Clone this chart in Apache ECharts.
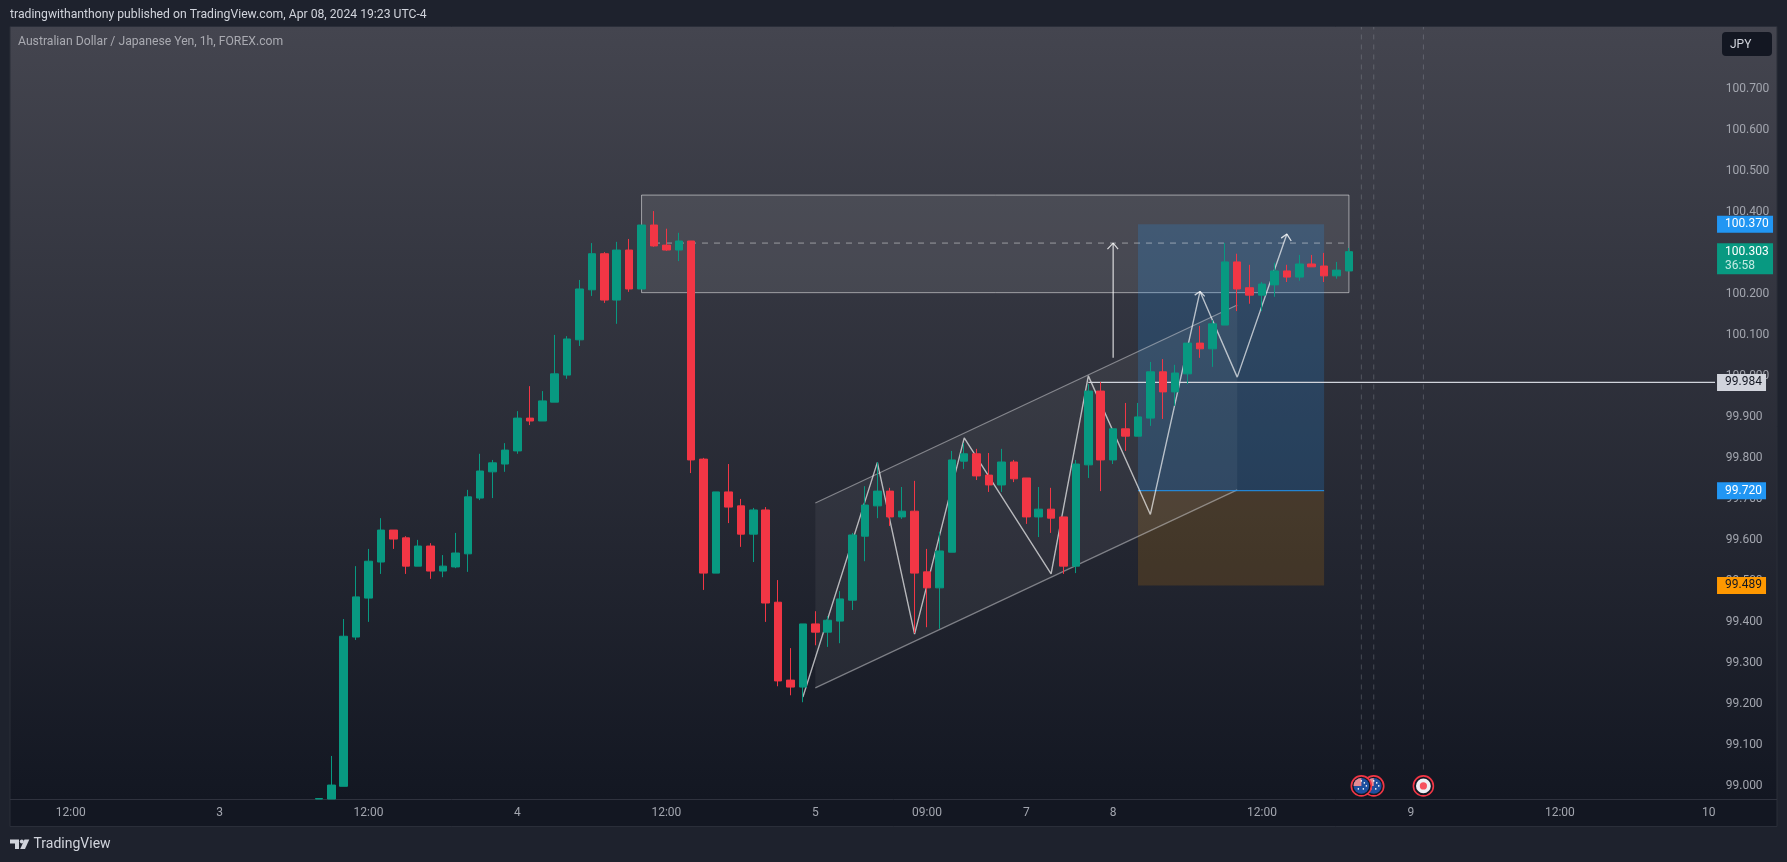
<!DOCTYPE html>
<html>

<head>
	<meta charset="utf-8">
	<script src="https://cdn.jsdelivr.net/npm/echarts@6/dist/echarts.min.js"></script>
	<style>
		html, body { margin: 0; padding: 0; background: #1e222d; }
	</style>
</head>

<body>
	<div id="main" style="width: 1787px; height: 862px"></div>
	<script type="text/javascript">
		// AUD/JPY 1h, bars are counted in slots of the time axis
		var slotCount = 138;
		var tickSlots = [5, 17, 29, 41, 53, 65, 74, 82, 89, 101, 113, 125, 137];
		var tickTexts = ['12:00', '3', '12:00', '4', '12:00', '5', '09:00', '7', '8', '12:00', '9', '12:00', '10'];
		var priceTicks = [99.0, 99.1, 99.2, 99.3, 99.4, 99.5, 99.6, 99.7, 99.8, 99.9, 100.0, 100.1, 100.2, 100.3, 100.4, 100.5, 100.6, 100.7];

		// first visible bar sits at slot 25, the two first bars are cut by the chart bottom
		var firstBar = 25;
		// open, close, low, high
		var candles = [
			[98.968, 98.969, 98.968, 98.970], [98.968, 99.002, 98.968, 99.073], [98.999, 99.365, 98.999, 99.407], [99.363, 99.461, 99.356, 99.536],
			[99.458, 99.548, 99.400, 99.578], [99.546, 99.624, 99.517, 99.653], [99.624, 99.602, 99.578, 99.624], [99.605, 99.536, 99.517, 99.609],
			[99.536, 99.585, 99.536, 99.600], [99.585, 99.524, 99.505, 99.592], [99.524, 99.536, 99.509, 99.563], [99.534, 99.568, 99.531, 99.617],
			[99.566, 99.705, 99.522, 99.722], [99.702, 99.768, 99.697, 99.810], [99.766, 99.788, 99.702, 99.795], [99.785, 99.819, 99.766, 99.836],
			[99.817, 99.897, 99.810, 99.914], [99.897, 99.890, 99.880, 99.975], [99.890, 99.939, 99.890, 99.963], [99.936, 100.005, 99.936, 100.100],
			[100.002, 100.090, 99.993, 100.097], [100.088, 100.212, 100.073, 100.234], [100.210, 100.298, 100.195, 100.324], [100.298, 100.185, 100.178, 100.302],
			[100.185, 100.307, 100.127, 100.327], [100.307, 100.212, 100.205, 100.334], [100.212, 100.368, 100.212, 100.368], [100.368, 100.317, 100.315, 100.402],
			[100.319, 100.307, 100.305, 100.359], [100.307, 100.329, 100.280, 100.349], [100.329, 99.795, 99.763, 100.329], [99.797, 99.519, 99.478, 99.800],
			[99.519, 99.717, 99.519, 99.717], [99.717, 99.680, 99.641, 99.785], [99.683, 99.614, 99.583, 99.700], [99.614, 99.673, 99.546, 99.678],
			[99.673, 99.446, 99.400, 99.680], [99.448, 99.256, 99.243, 99.502], [99.258, 99.241, 99.221, 99.336], [99.241, 99.395, 99.204, 99.395],
			[99.395, 99.375, 99.343, 99.426], [99.375, 99.404, 99.339, 99.414], [99.402, 99.456, 99.348, 99.475], [99.453, 99.612, 99.429, 99.617],
			[99.609, 99.685, 99.548, 99.731], [99.683, 99.719, 99.653, 99.790], [99.719, 99.656, 99.634, 99.727], [99.656, 99.670, 99.651, 99.729],
			[99.670, 99.519, 99.373, 99.744], [99.522, 99.483, 99.387, 99.578], [99.483, 99.573, 99.383, 99.619], [99.570, 99.795, 99.570, 99.817],
			[99.792, 99.810, 99.773, 99.836], [99.810, 99.756, 99.746, 99.822], [99.758, 99.734, 99.717, 99.812], [99.734, 99.790, 99.717, 99.822],
			[99.790, 99.749, 99.741, 99.795], [99.751, 99.656, 99.639, 99.751], [99.656, 99.675, 99.607, 99.729], [99.675, 99.653, 99.617, 99.727],
			[99.656, 99.536, 99.517, 99.656], [99.536, 99.785, 99.519, 99.795], [99.783, 99.963, 99.751, 99.980], [99.963, 99.795, 99.719, 99.985],
			[99.795, 99.871, 99.785, 99.871], [99.871, 99.853, 99.817, 99.934], [99.853, 99.900, 99.853, 99.934], [99.897, 100.010, 99.878, 100.034],
			[100.010, 99.961, 99.895, 100.041], [99.961, 100.007, 99.927, 100.027], [100.005, 100.080, 99.980, 100.080], [100.080, 100.066, 100.044, 100.122],
			[100.066, 100.127, 100.022, 100.136], [100.124, 100.278, 100.124, 100.324], [100.278, 100.212, 100.158, 100.298], [100.215, 100.197, 100.176, 100.271],
			[100.197, 100.224, 100.158, 100.229], [100.222, 100.256, 100.193, 100.276], [100.256, 100.241, 100.229, 100.271], [100.241, 100.273, 100.232, 100.295],
			[100.273, 100.266, 100.266, 100.295], [100.268, 100.244, 100.229, 100.300], [100.244, 100.258, 100.237, 100.278], [100.256, 100.303, 100.256, 100.312]
		];

		// drawings on the chart, as [slot, price]
		var supplyBox = [[51, 100.441], [108, 100.203]];
		var supplyMid = [[52, 100.324], [108, 100.324]];
		var channelArea = [[65, 99.690], [99, 100.173], [99, 99.722], [65, 99.239]];
		var channelTop = [[65, 99.690], [99, 100.173]];
		var channelBottom = [[65, 99.239], [99, 99.722]];
		var profitZone = [[91, 100.370], [106, 99.720]];
		var lossZone = [[91, 99.720], [106, 99.489]];
		var entryLine = [[91, 99.720], [106, 99.720]];
		var zigzag = [[64, 99.217], [70, 99.789], [73, 99.370], [77, 99.849], [84, 99.517], [87, 100.0], [92, 99.662], [96, 100.206], [99, 99.997], [103, 100.346]];
		var zigzagHeadA = [[95.57, 100.197], [96, 100.206], [96.38, 100.194]];
		var zigzagHeadB = [[102.54, 100.336], [103, 100.346], [103.35, 100.329]];
		var targetArrow = [[89, 100.044], [89, 100.324]];
		var targetHead = [[88.54, 100.309], [89, 100.324], [89.4, 100.309]];
		var levelLine = [[87, 99.984], [137.5, 99.984]];

		// economic events under the dashed lines
		var eventSlots = [110, 109, 114];
		var eventKinds = ['AU', 'AU', 'JP'];
		var eventLineSlots = [109, 110, 114];

		// price tags on the right
		var tagPrices = [100.370, 100.303, 99.984, 99.720, 99.489];
		var tagTexts = ['100.370', '100.303', '99.984', '99.720', '99.489'];
		var tagFills = ['#2196f3', '#089981', '#d1d4dc', '#2196f3', '#ff9800'];
		var tagInks = ['#ffffff', '#ffffff', '#131722', '#ffffff', '#131722'];
		var countdown = '36:58';

		var fontName = 'Roboto';

		var categories = [];
		for (var s = 0; s < slotCount; s++) {
			var at = tickSlots.indexOf(s);
			categories.push(at >= 0 ? tickTexts[at] : '');
		}
		var candleData = [];
		for (var b = 0; b < firstBar; b++) candleData.push(['-', '-', '-', '-']);
		candleData = candleData.concat(candles);

		var myChart = echarts.init(document.getElementById('main'));

		function lineSeries(points, color, width, dash) {
			return {
				type: 'line', xAxisIndex: 1, yAxisIndex: 0, z: 1, data: points,
				symbol: 'none', silent: true, animation: false,
				lineStyle: { color: color, width: width, type: dash || 'solid' }
			};
		}

		// one item custom series, everything it draws goes through api.coord
		function shapeSeries(z, draw) {
			return {
				type: 'custom', xAxisIndex: 1, yAxisIndex: 0, z: z, silent: true, animation: false,
				data: [[0, 99.5]], renderItem: draw
			};
		}

		function rectOf(api, pair, fill, stroke, lw) {
			var a = api.coord(pair[0]), c = api.coord(pair[1]);
			return {
				type: 'rect',
				shape: { x: a[0], y: a[1], width: c[0] - a[0], height: c[1] - a[1] },
				style: { fill: fill, stroke: stroke || null, lineWidth: lw || 0 }
			};
		}

		function drawFills(params, api) {
			return {
				type: 'group',
				children: [
					rectOf(api, supplyBox, 'rgba(255,255,255,0.09)', 'rgba(255,255,255,0.5)', 1),
					rectOf(api, profitZone, 'rgba(33,150,243,0.2)'),
					rectOf(api, lossZone, 'rgba(255,152,0,0.15)'),
					{
						type: 'polygon',
						shape: { points: channelArea.map(function (p) { return api.coord(p); }) },
						style: { fill: 'rgba(255,255,255,0.055)' }
					}
				]
			};
		}

		function drawEventLines(params, api) {
			return {
				type: 'group',
				children: eventLineSlots.map(function (slot) {
					var a = api.coord([slot, 99.04]), c = api.coord([slot, 100.851]);
					return {
						type: 'line',
						shape: { x1: a[0], y1: a[1], x2: c[0], y2: c[1] },
						style: { stroke: 'rgba(170,172,182,0.3)', lineWidth: 1, lineDash: [5, 5] }
					};
				})
			};
		}

		function drawEvents(params, api) {
			var kids = [];
			eventSlots.forEach(function (slot, i) {
				var c = api.coord([slot, 99.0]), x = c[0], y = c[1];
				kids.push({ type: 'circle', shape: { cx: x, cy: y, r: 10 }, style: { fill: '#131722', stroke: '#f23645', lineWidth: 1.6 } });
				if (eventKinds[i] === 'AU') {
					kids.push({ type: 'circle', shape: { cx: x, cy: y, r: 7.8 }, style: { fill: '#1d4f9f' } });
					kids.push({ type: 'sector', shape: { cx: x, cy: y, r: 7.8, r0: 0, startAngle: Math.PI, endAngle: Math.PI * 1.5 }, style: { fill: '#e58b92' } });
					[[3, -3], [5, 0], [2, 3], [-3, 3], [0, -5]].forEach(function (d) {
						kids.push({ type: 'circle', shape: { cx: x + d[0], cy: y + d[1], r: 0.8 }, style: { fill: '#ffffff' } });
					});
				} else {
					kids.push({ type: 'circle', shape: { cx: x, cy: y, r: 7.4 }, style: { fill: '#eef0f4' } });
					kids.push({ type: 'circle', shape: { cx: x, cy: y, r: 3.6 }, style: { fill: '#f7525f' } });
				}
			});
			return { type: 'group', children: kids };
		}

		function drawTags(params, api) {
			var kids = [];
			tagPrices.forEach(function (p, i) {
				var c = api.coord([137.5, p]);
				var x = c[0] + 2, y = c[1];
				var long = tagTexts[i].length > 6;
				var withTimer = tagTexts[i] === '100.303';
				kids.push({
					type: 'rect',
					shape: { x: x, y: y - 8.5, width: long ? 56 : 49, height: withTimer ? 31 : 17 },
					style: { fill: tagFills[i] }
				});
				kids.push({
					type: 'text',
					style: { x: x + 8, y: y, text: tagTexts[i], fill: tagInks[i], font: '12px ' + fontName, textVerticalAlign: 'middle', textAlign: 'left' }
				});
				if (withTimer) {
					kids.push({
						type: 'text',
						style: { x: x + 8, y: y + 14, text: countdown, fill: '#c4ebe3', font: '12px ' + fontName, textVerticalAlign: 'middle', textAlign: 'left' }
					});
				}
			});
			return { type: 'group', children: kids };
		}

		var option = {
			animation: false,
			backgroundColor: '#1e222d',
			textStyle: { fontFamily: fontName },
			grid: { left: 2.45, top: 27, width: 1712.58, height: 772, containLabel: false },
			xAxis: [
				{
					type: 'category', data: categories, boundaryGap: true,
					axisLine: { show: false }, axisTick: { show: false }, splitLine: { show: false },
					axisLabel: {
						interval: function (i, v) { return v !== ''; },
						color: '#a3a6af', fontSize: 12, fontFamily: fontName, margin: 8, hideOverlap: false
					}
				},
				{ type: 'value', min: -0.5, max: slotCount - 0.5, show: false, splitLine: { show: false } }
			],
			yAxis: {
				type: 'value', position: 'right', min: 98.968, max: 100.851, scale: true,
				axisLine: { show: false }, axisTick: { show: false }, splitLine: { show: false },
				axisLabel: {
					customValues: priceTicks, color: '#a3a6af', fontSize: 12, fontFamily: fontName, margin: 10.7,
					formatter: function (v) { return v.toFixed(3); }
				}
			},
			graphic: [
				// pane background, time axis strip and its borders
				{ type: 'rect', z: -20, silent: true, shape: { x: 10, y: 27, width: 1767, height: 772 },
					style: { fill: new echarts.graphic.LinearGradient(0, 0, 0, 1, [{ offset: 0, color: '#44454f' }, { offset: 1, color: '#131722' }]) } },
				{ type: 'rect', z: -20, silent: true, shape: { x: 10, y: 799, width: 1767, height: 27 }, style: { fill: '#131722' } },
				{ type: 'rect', z: -19, silent: true, shape: { x: 10, y: 26.5, width: 1767, height: 800 }, style: { fill: 'none', stroke: '#2a2e39', lineWidth: 1 } },
				{ type: 'line', z: -19, silent: true, shape: { x1: 10, y1: 799.5, x2: 1777, y2: 799.5 }, style: { stroke: '#2f323e', lineWidth: 1 } },
				// texts
				{ type: 'text', z: 10, silent: true, style: { x: 10, y: 15, text: 'tradingwithanthony published on TradingView.com, Apr 08, 2024 19:23 UTC-4', fill: '#d1d4dc', font: '12.2px ' + fontName, textVerticalAlign: 'middle' } },
				{ type: 'text', z: 10, silent: true, style: { x: 18, y: 42, text: 'Australian Dollar / Japanese Yen, 1h, FOREX.com', fill: '#a9aab1', font: '12.2px ' + fontName, textVerticalAlign: 'middle' } },
				// currency button
				{ type: 'rect', z: 10, silent: true, shape: { x: 1722, y: 32, width: 50, height: 24, r: 4 }, style: { fill: '#131722' } },
				{ type: 'text', z: 11, silent: true, style: { x: 1730, y: 44.5, text: 'JPY', fill: '#d1d4dc', font: '12px ' + fontName, textVerticalAlign: 'middle' } },
				// logo
				{ type: 'polygon', z: 10, silent: true, shape: { points: [[10, 839.5], [19, 839.5], [19, 849], [15, 849], [15, 843.5], [10, 843.5]] }, style: { fill: '#d1d4dc' } },
				{ type: 'circle', z: 10, silent: true, shape: { cx: 21.8, cy: 841.5, r: 2 }, style: { fill: '#d1d4dc' } },
				{ type: 'polygon', z: 10, silent: true, shape: { points: [[24.5, 839.5], [29.3, 839.5], [25, 849], [20.2, 849]] }, style: { fill: '#d1d4dc' } },
				{ type: 'text', z: 10, silent: true, style: { x: 33.5, y: 844.5, text: 'TradingView', fill: '#d1d4dc', font: '14px ' + fontName, textVerticalAlign: 'middle' } }
			],
			series: [
				shapeSeries(1, drawFills),
				shapeSeries(1, drawEventLines),
				lineSeries(channelTop, 'rgba(215,215,220,0.5)', 1.2),
				lineSeries(channelBottom, 'rgba(215,215,220,0.5)', 1.2),
				lineSeries(supplyMid, 'rgba(255,255,255,0.45)', 1, [6, 6]),
				lineSeries(entryLine, '#2196f3', 1),
				lineSeries(zigzag, 'rgba(255,255,255,0.66)', 1.4),
				lineSeries(zigzagHeadA, 'rgba(255,255,255,0.75)', 1.3),
				lineSeries(zigzagHeadB, 'rgba(255,255,255,0.8)', 1.3),
				lineSeries(targetArrow, 'rgba(255,255,255,0.8)', 1.2),
				lineSeries(targetHead, 'rgba(255,255,255,0.8)', 1.2),
				lineSeries(levelLine, '#d1d4dc', 1.2),
				{
					type: 'candlestick', xAxisIndex: 0, yAxisIndex: 0, z: 3, data: candleData,
					barWidth: 8, silent: true, animation: false, clip: true,
					itemStyle: { color: '#089981', color0: '#f23645', borderColor: '#089981', borderColor0: '#f23645', borderWidth: 1 }
				},
				shapeSeries(5, drawEvents),
				shapeSeries(6, drawTags)
			]
		};
		myChart.setOption(option);
	</script>
</body>

</html>
